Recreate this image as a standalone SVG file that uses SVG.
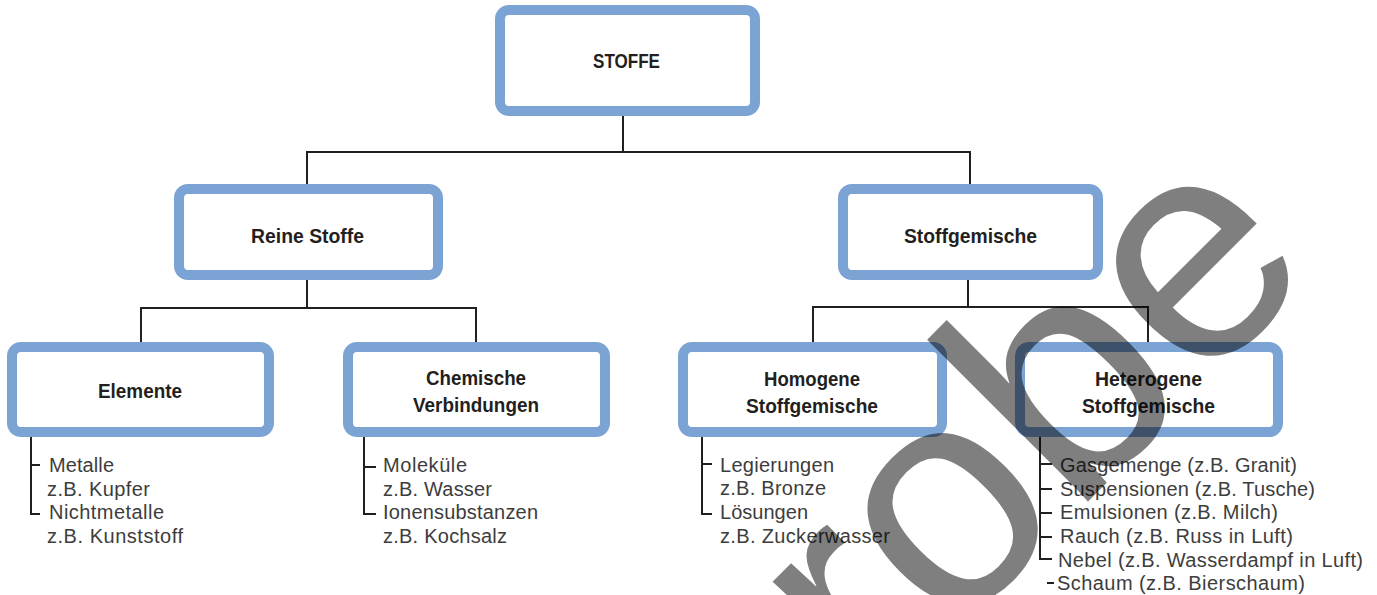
<svg xmlns="http://www.w3.org/2000/svg" width="1377" height="595" viewBox="0 0 1377 595">
<style>
.box{fill:#fff;stroke:#7ba3d4;stroke-width:10}
.t{font-family:'Liberation Sans',Arial,sans-serif;font-weight:bold;font-size:21px;fill:#231f20;text-anchor:middle}
.l{font-family:'Liberation Sans',Arial,sans-serif;font-size:20px;fill:#3d3d3d}
.c{fill:none;stroke:#231f20;stroke-width:2}
.wm{font-family:'Liberation Sans',Arial,sans-serif;font-size:315px;fill:#000;fill-opacity:0.5}
</style>
<g id="connectors" class="c">
<path d="M623 116V152M307 152H971M307 151V184M970 151V184"/>
<path d="M307 280V308M140 308H477M141 307V342M476 307V342"/>
<path d="M968 280V307M812 307H1149M813 306V342M1148 306V342"/>
<path d="M31 437V514H40M31 465H40"/>
<path d="M364 437V514H376M364 467H376"/>
<path d="M702 437V514H712M702 464H712"/>
<path d="M1040 437V559H1052M1040 464H1052M1040 489H1052M1040 513H1052M1040 537H1052M1047 583H1054"/>
</g>
<g id="stoffe"><rect class="box" x="500" y="10" width="255" height="101" rx="9"/><text class="t" x="626.5" y="68" textLength="67" lengthAdjust="spacingAndGlyphs">STOFFE</text></g>
<g id="reine"><rect class="box" x="179" y="189" width="259" height="86" rx="9"/><text class="t" x="307.5" y="243" textLength="113" lengthAdjust="spacingAndGlyphs">Reine Stoffe</text></g>
<g id="gemische"><rect class="box" x="843" y="189" width="255" height="86" rx="9"/><text class="t" x="970.5" y="243" textLength="133" lengthAdjust="spacingAndGlyphs">Stoffgemische</text></g>
<g id="elemente"><rect class="box" x="12" y="347" width="257" height="85" rx="9"/><text class="t" x="140" y="398" textLength="84" lengthAdjust="spacingAndGlyphs">Elemente</text>
<text class="l" x="49" y="472" textLength="65" lengthAdjust="spacing">Metalle</text>
<text class="l" x="47" y="495.5" textLength="103" lengthAdjust="spacing">z.B. Kupfer</text>
<text class="l" x="49" y="519" textLength="115" lengthAdjust="spacing">Nichtmetalle</text>
<text class="l" x="47" y="543" textLength="136" lengthAdjust="spacing">z.B. Kunststoff</text></g>
<g id="chemische"><rect class="box" x="348" y="347" width="257" height="85" rx="9"/><text class="t" x="476" y="385" textLength="100" lengthAdjust="spacingAndGlyphs">Chemische</text><text class="t" x="476" y="412" textLength="126" lengthAdjust="spacingAndGlyphs">Verbindungen</text>
<text class="l" x="383" y="472" textLength="84" lengthAdjust="spacing">Moleküle</text>
<text class="l" x="383" y="495.5" textLength="109" lengthAdjust="spacing">z.B. Wasser</text>
<text class="l" x="383" y="519" textLength="155" lengthAdjust="spacing">Ionensubstanzen</text>
<text class="l" x="383" y="543" textLength="124" lengthAdjust="spacing">z.B. Kochsalz</text></g>
<g id="homogene"><rect class="box" x="683" y="347" width="259" height="85" rx="9"/><text class="t" x="812" y="386" textLength="96" lengthAdjust="spacingAndGlyphs">Homogene</text><text class="t" x="812" y="413" textLength="132" lengthAdjust="spacingAndGlyphs">Stoffgemische</text>
<text class="l" x="720" y="472" textLength="114" lengthAdjust="spacing">Legierungen</text>
<text class="l" x="720" y="495" textLength="106" lengthAdjust="spacing">z.B. Bronze</text>
<text class="l" x="720" y="519" textLength="88" lengthAdjust="spacing">Lösungen</text>
<text class="l" x="720" y="543" textLength="170" lengthAdjust="spacing">z.B. Zuckerwasser</text></g>
<g id="heterogene"><rect class="box" x="1020" y="347" width="258" height="85" rx="9"/><text class="t" x="1148.5" y="386" textLength="107" lengthAdjust="spacingAndGlyphs">Heterogene</text><text class="t" x="1148.5" y="413" textLength="133" lengthAdjust="spacingAndGlyphs">Stoffgemische</text>
<text class="l" x="1060" y="472" textLength="237" lengthAdjust="spacing">Gasgemenge (z.B. Granit)</text>
<text class="l" x="1060" y="495.5" textLength="255" lengthAdjust="spacing">Suspensionen (z.B. Tusche)</text>
<text class="l" x="1060" y="519" textLength="218" lengthAdjust="spacing">Emulsionen (z.B. Milch)</text>
<text class="l" x="1060" y="543" textLength="233" lengthAdjust="spacing">Rauch (z.B. Russ in Luft)</text>
<text class="l" x="1058" y="567" textLength="305" lengthAdjust="spacing">Nebel (z.B. Wasserdampf in Luft)</text>
<text class="l" x="1057" y="590" textLength="248" lengthAdjust="spacing">Schaum (z.B. Bierschaum)</text></g>
<g id="watermark"><text class="wm" transform="rotate(-45)" x="-96" y="1124">Probe</text></g>
</svg>
